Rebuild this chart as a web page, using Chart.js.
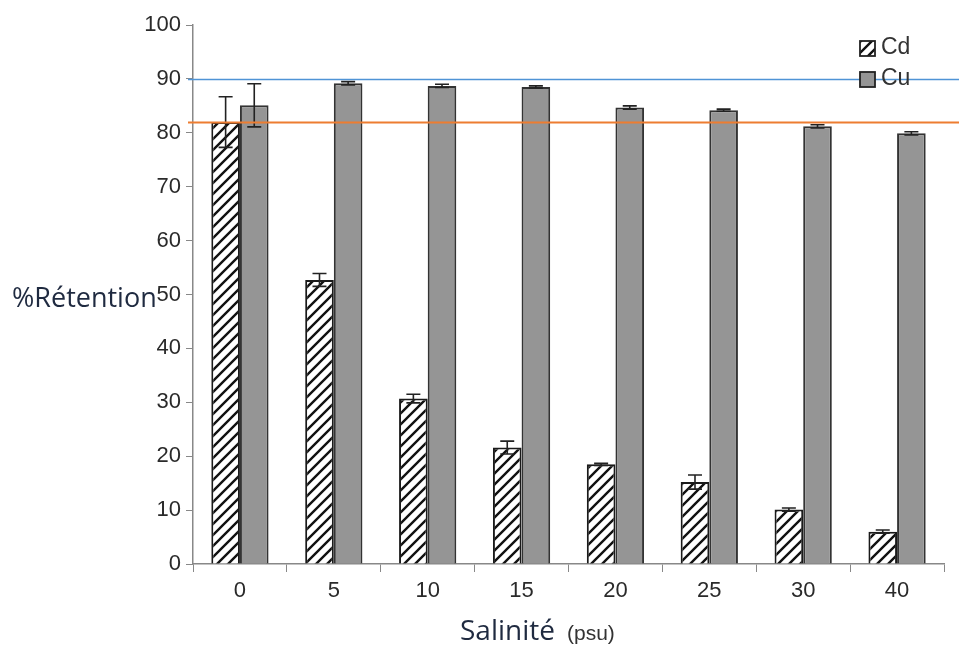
<!DOCTYPE html>
<html>
<head>
<meta charset="utf-8">
<script src="https://cdn.jsdelivr.net/npm/chart.js@4"></script>
<style>
    html, body { margin: 0; padding: 0; background: #fff; }
    #wrap { width: 959px; height: 650px; position: relative; }
</style>
</head>
<body>
<div id="wrap"><canvas id="chart"></canvas></div>
<script>
// values
const salinity = ['0', '5', '10', '15', '20', '25', '30', '40'];
const cdValues = [82.0, 52.7, 30.7, 21.6, 18.5, 15.2, 10.1, 6.0];
const cdErrors = [4.7, 1.2, 0.8, 1.2, 0.2, 1.3, 0.3, 0.3];
const cuValues = [85.1, 89.2, 88.7, 88.5, 84.7, 84.2, 81.2, 79.9];
const cuErrors = [4.0, 0.3, 0.3, 0.2, 0.3, 0.2, 0.3, 0.3];
const refLines = [90, 82];
const yTitle = '%Rétention';
const xTitle = 'Salinité';
const xUnit = '(psu)';

const tickFont = { family: 'Liberation Sans', size: 22 };

function makeHatch(size, lineWidth) {
    const c = document.createElement('canvas');
    c.width = size;
    c.height = size;
    const g = c.getContext('2d');
    g.fillStyle = '#fff';
    g.fillRect(0, 0, size, size);
    g.strokeStyle = '#111';
    g.lineWidth = lineWidth;
    g.beginPath();
    g.moveTo(0, size); g.lineTo(size, 0);
    g.moveTo(-size / 2, size / 2); g.lineTo(size / 2, -size / 2);
    g.moveTo(size / 2, size * 1.5); g.lineTo(size * 1.5, size / 2);
    g.stroke();
    return g.createPattern(c, 'repeat');
}

const hatch = makeHatch(11, 2.4);

const errorBars = {
    id: 'errorBars',
    afterDatasetsDraw(chart) {
        const ctx = chart.ctx;
        const y = chart.scales.y;
        ctx.save();
        ctx.strokeStyle = '#222';
        ctx.lineWidth = 1.6;
        chart.data.datasets.forEach((ds, i) => {
            chart.getDatasetMeta(i).data.forEach((bar, j) => {
                const v = ds.data[j];
                const e = ds.errors[j];
                const top = y.getPixelForValue(v + e);
                const bot = y.getPixelForValue(v - e);
                const x = bar.x;
                ctx.beginPath();
                ctx.moveTo(x, top); ctx.lineTo(x, bot);
                ctx.moveTo(x - 7, top); ctx.lineTo(x + 7, top);
                ctx.moveTo(x - 7, bot); ctx.lineTo(x + 7, bot);
                ctx.stroke();
            });
        });
        ctx.restore();
    }
};

const extras = {
    id: 'extras',
    afterDraw(chart) {
        const ctx = chart.ctx;
        const area = chart.chartArea;
        const y = chart.scales.y;
        ctx.save();

        // horizontal reference lines
        const lineColors = ['#4f94d6', '#ed7d31'];
        const lineWidths = [1.5, 2];
        refLines.forEach((v, i) => {
            const py = Math.round(y.getPixelForValue(v)) + 0.5;
            ctx.strokeStyle = lineColors[i];
            ctx.lineWidth = lineWidths[i];
            ctx.beginPath();
            ctx.moveTo(area.left - 5, py);
            ctx.lineTo(chart.width, py);
            ctx.stroke();
        });

        // legend
        ctx.font = '23px "Liberation Sans"';
        ctx.textBaseline = 'middle';
        chart.data.datasets.forEach((ds, i) => {
            const bx = area.right - 84;
            const by = 41 + i * 31;
            ctx.fillStyle = ds.backgroundColor;
            ctx.fillRect(bx, by, 15, 15);
            ctx.strokeStyle = '#222';
            ctx.lineWidth = 1.8;
            ctx.strokeRect(bx, by, 15, 15);
            ctx.fillStyle = '#333';
            ctx.fillText(ds.label, bx + 21, by + 7);
        });

        // axis titles
        ctx.fillStyle = '#1f2a40';
        ctx.font = '27px "Open Sans"';
        ctx.textBaseline = 'middle';
        ctx.fillText(yTitle, 12, 299);
        ctx.font = '28px "Open Sans"';
        ctx.fillText(xTitle, 460, 632);
        ctx.fillStyle = '#333';
        ctx.font = '21px "Liberation Sans"';
        ctx.fillText(xUnit, 567, 634);
        ctx.restore();
    }
};

new Chart(document.getElementById('chart'), {
    type: 'bar',
    data: {
        labels: salinity,
        datasets: [
            {
                label: 'Cd',
                data: cdValues,
                errors: cdErrors,
                backgroundColor: hatch,
                borderColor: '#1a1a1a',
                borderWidth: 2,
            },
            {
                label: 'Cu',
                data: cuValues,
                errors: cuErrors,
                backgroundColor: '#959595',
                borderColor: '#333',
                borderWidth: 2,
            },
        ],
    },
    options: {
        responsive: true,
        maintainAspectRatio: false,
        animation: false,
        layout: { padding: { top: 25, right: 15, bottom: 0, left: 0 } },
        datasets: {
            bar: { categoryPercentage: 0.61, barPercentage: 1.0 },
        },
        scales: {
            x: {
                ticks: { color: '#2a2a2a', font: tickFont, padding: 6 },
                grid: { drawOnChartArea: false, tickLength: 8, offset: true, color: '#888' },
                border: { color: '#888', width: 1.5 },
                afterFit(scale) { scale.height = 86; },
            },
            y: {
                min: 0,
                max: 100,
                ticks: { stepSize: 10, color: '#2a2a2a', font: tickFont, padding: 5 },
                grid: { drawOnChartArea: false, tickLength: 7, color: '#888' },
                border: { color: '#888', width: 1.5 },
                afterFit(scale) { scale.width = 193; },
            },
        },
        plugins: {
            legend: { display: false },
            tooltip: { enabled: false },
        },
    },
    plugins: [errorBars, extras],
});
</script>
</body>
</html>
